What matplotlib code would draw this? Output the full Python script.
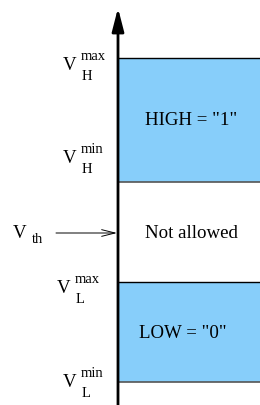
import matplotlib
matplotlib.use("Agg")
import matplotlib.pyplot as plt
from matplotlib.patches import Rectangle

# ---- data (voltage levels in pixel-space of the diagram, top = high voltage) ----
level_names = ["VH_max", "VH_min", "VL_max", "VL_min"]
level_pos = [58, 182, 282, 382]
vth_pos = 233
band_labels = ['HIGH = "1"', 'Not allowed', 'LOW = "0"']
band_top = [58, 182, 282]
band_bottom = [182, 282, 382]
band_filled = [True, False, True]
band_label_x = [191.5, 191, 182.5]
band_label_base = [125, 238, 338]

# label pieces: base "V" with superscript and subscript
lbl_base = ["V", "V", "V", "V"]
lbl_sup = ["max", "min", "max", "min"]
lbl_sub = ["H", "H", "L", "L"]
lbl_x = [63, 63, 57, 63]
lbl_baseline = [70, 163, 293, 387]

FILL = "#87cefa"
SERIF = ["Liberation Serif", "DejaVu Serif"]
BIG = 13.6
SMALL = 10.5

fig = plt.figure(figsize=(2.6, 4.05), dpi=100)
ax = fig.add_axes([0, 0, 1, 1])
ax.set_xlim(0, 260)
ax.set_ylim(405, 0)
ax.axis("off")

axis_x = 118
# bands
for top, bot, filled, lab, lx, ly in zip(band_top, band_bottom, band_filled,
                                         band_labels, band_label_x, band_label_base):
    if filled:
        ax.add_patch(Rectangle((axis_x, top), 260 - axis_x, bot - top,
                               facecolor=FILL, edgecolor="none", zorder=1))
        ax.plot([axis_x, 260], [top, top], color="black", lw=1.0, zorder=2)
        ax.plot([axis_x, 260], [bot, bot], color="#555555", lw=1.2, zorder=2)
    ax.text(lx, ly, lab, ha="center", va="baseline", fontsize=BIG,
            family=SERIF, color="black", zorder=3)

# vertical axis with arrow
ax.annotate("", xy=(axis_x, 8), xytext=(axis_x, 405),
            arrowprops=dict(arrowstyle="-|>,head_length=1.4,head_width=0.36",
                            mutation_scale=10, lw=2.0, color="black",
                            shrinkA=0, shrinkB=0), zorder=4)

# level labels
for b, sp, sb, x, y in zip(lbl_base, lbl_sup, lbl_sub, lbl_x, lbl_baseline):
    ax.text(x, y, b, ha="left", va="baseline", fontsize=BIG, family=SERIF)
    ax.text(x + 18, y - 10, sp, ha="left", va="baseline", fontsize=SMALL, family=SERIF)
    ax.text(x + 18.5, y + 10, sb, ha="left", va="baseline", fontsize=SMALL, family=SERIF)

# threshold
ax.text(13, 238, "V", ha="left", va="baseline", fontsize=BIG, family=SERIF)
ax.text(31.5, 243, "th", ha="left", va="baseline", fontsize=SMALL, family=SERIF)
ax.annotate("", xy=(axis_x - 1, vth_pos), xytext=(56, vth_pos),
            arrowprops=dict(arrowstyle="->,head_length=1.2,head_width=0.3",
                            mutation_scale=8, lw=0.7, color="black",
                            shrinkA=0, shrinkB=0))

fig.savefig("out.png", dpi=100)
